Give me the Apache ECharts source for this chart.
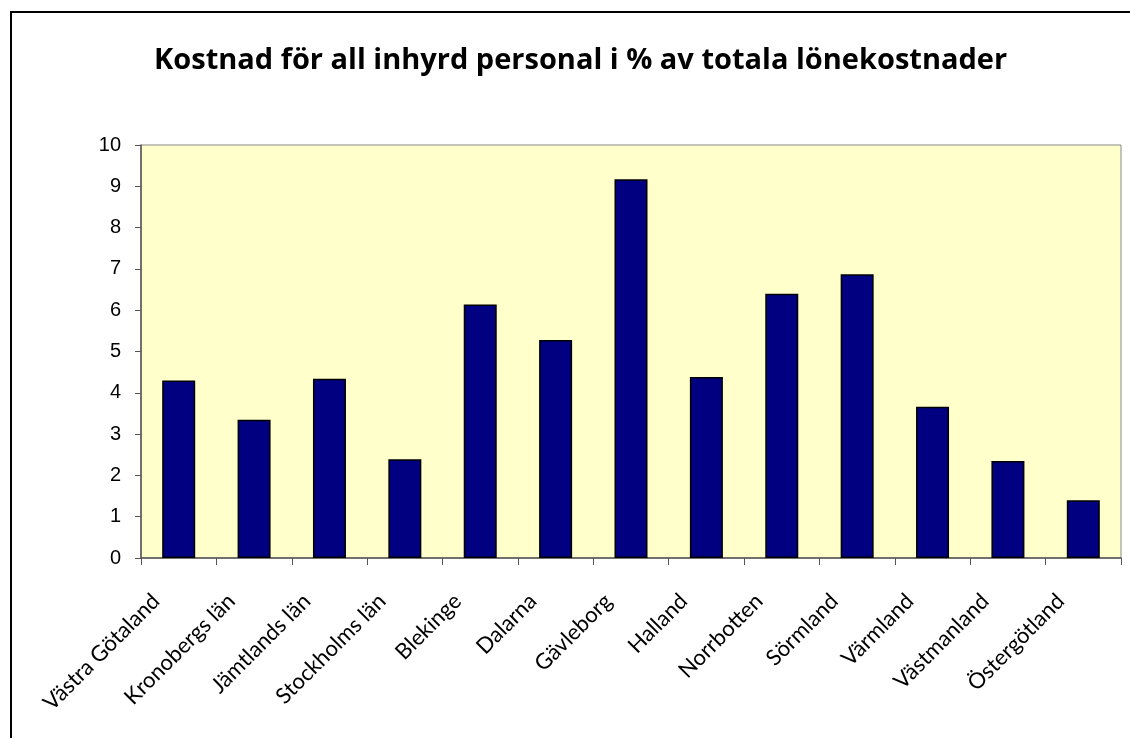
<!DOCTYPE html>
<html>
<head>
<meta charset="utf-8">
<script src="https://cdn.jsdelivr.net/npm/echarts@6/dist/echarts.min.js"></script>
<style>html,body{margin:0;padding:0;background:#fff}#c{width:1130px;height:738px}</style>
</head>
<body>
<div id="c"></div>
<script>
const titleText = "Kostnad för all inhyrd personal i % av totala lönekostnader";
const categories = ["Västra Götaland","Kronobergs län","Jämtlands län","Stockholms län","Blekinge","Dalarna","Gävleborg","Halland","Norrbotten","Sörmland","Värmland","Västmanland","Östergötland"];
const values = [4.30,3.35,4.34,2.39,6.14,5.28,9.17,4.38,6.40,6.87,3.66,2.35,1.40];
const yTicks = [0,1,2,3,4,5,6,7,8,9,10];

const chart = echarts.init(document.getElementById('c'), null, {renderer:'canvas'});
chart.setOption({
  animation:false,
  backgroundColor:'#ffffff',
  graphic:[{type:'rect',shape:{x:11,y:12,width:1300,height:900},style:{fill:'none',stroke:'#000',lineWidth:2},z:-1}],
  title:{text:titleText,left:149,top:41,textStyle:{fontFamily:'Open Sans',fontWeight:'bold',fontSize:29,color:'#000'}},
  grid:{left:141,right:9,top:145,bottom:180,show:true,backgroundColor:'#FFFFCC',borderColor:'#888',borderWidth:1},
  xAxis:{type:'category',data:categories,
    axisLine:{lineStyle:{color:'#555',width:1.5}},
    axisTick:{show:true,alignWithLabel:false,length:7,lineStyle:{color:'#555'}},
    axisLabel:{rotate:45,interval:0,margin:17,padding:[0,32,0,0],fontFamily:'Lato',fontSize:22,color:'#000'}},
  yAxis:{type:'value',min:0,max:10,interval:1,
    axisLine:{show:true,lineStyle:{color:'#555',width:1.5}},
    axisTick:{show:true,length:6,lineStyle:{color:'#555'}},
    splitLine:{show:false},
    axisLabel:{fontFamily:'Liberation Sans',fontSize:20,color:'#000',margin:20,
      formatter:function(v){return yTicks.indexOf(v)>=0?String(v):'';}}},
  series:[{type:'bar',data:values,barWidth:33,
    itemStyle:{color:'#000080',borderColor:'#000',borderWidth:1.5}}]
});
</script>
</body>
</html>
